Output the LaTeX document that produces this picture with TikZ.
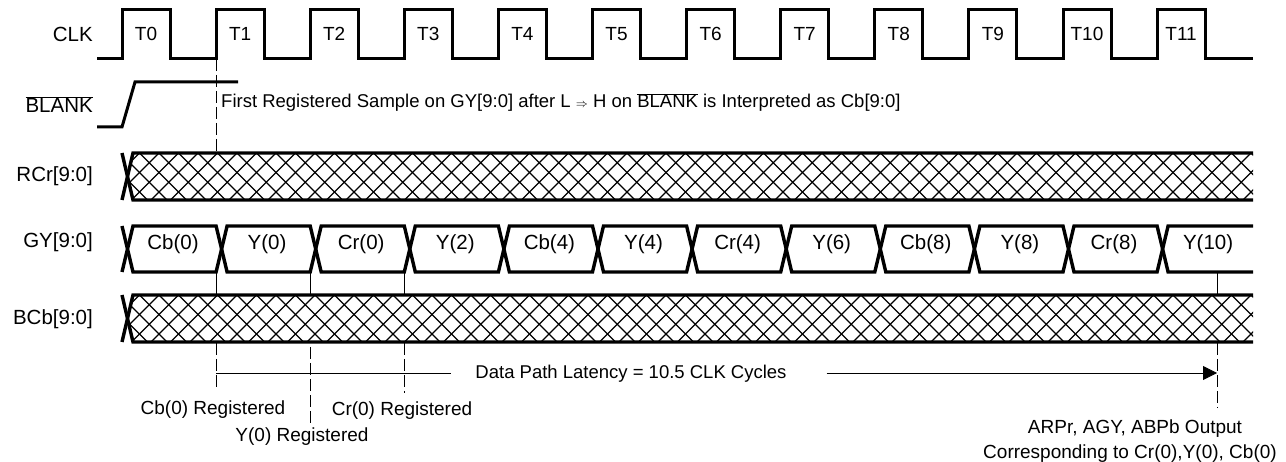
\documentclass[tikz,border=0pt]{standalone}
\usepackage{fontspec}
\setmainfont{Liberation Sans}
\usetikzlibrary{arrows.meta,positioning}

\newcommand{\clkper}{94.1}
% hatched bus between y=#1 (top) and y=#2 (bottom)
\newcommand{\hatchbus}[2]{%
  \begin{scope}
    \clip (127.5,{(#1+#2)/2}) -- (133,#1) -- (1253,#1) -- (1253,#2) -- (133,#2) -- cycle;
    \foreach \s in {-3,...,62} {
      \draw[hatch] ({120+\s*19.5},#1) -- ++(50,50);
      \draw[hatch] ({120+\s*19.5},#1) -- ++(-50,50);
    }
  \end{scope}
  \draw[bus] (122,#1) -- (133,#2) -- (1253,#2);
  \draw[bus] (122,#2) -- (133,#1) -- (1253,#1);
}

\begin{document}
\begin{tikzpicture}[x=1pt,y=-1pt,
    sig/.style={line width=3pt},
    bus/.style={line width=3.4pt},
    hatch/.style={line width=1.2pt},
    lbl/.style={font=\fontsize{19}{22}\selectfont, inner sep=0pt},
    biglbl/.style={lbl, font=\fontsize{20.5}{24}\selectfont},
    smalllbl/.style={lbl, font=\fontsize{18.5}{22}\selectfont},
    guide/.style={line width=0.8pt, dash pattern=on 12pt off 4pt},
    tick/.style={line width=0.8pt}]
    \useasboundingbox (0,0) rectangle (1286,462);

    % signal names
    \node[biglbl, anchor=base east] (clk) at (93,42) {CLK};
    \node[biglbl, anchor=base east] (blank) at (93,113) {$\overline{\mbox{BLANK}}$};
    \node[biglbl, anchor=base east] (rcr) at (93,182) {RCr[9:0]};
    \node[biglbl, anchor=base east] (gy) at (93,248) {GY[9:0]};
    \node[biglbl, anchor=base east] (bcb) at (93,325) {BCb[9:0]};

    % clock
    \draw[sig] (97,59) \foreach \k in {0,...,11} {
        -- ({122+\k*\clkper},59) -- ({122+\k*\clkper},10)
        -- ({170+\k*\clkper},10) -- ({170+\k*\clkper},59) } -- (1253,59);
    \foreach \k in {0,...,11}
        \node[lbl, anchor=base] (t\k) at ({146+\k*\clkper},41) {T\k};

    % blank
    \draw[sig] (97,127) -- (122,127) -- (135,82) -- (238,82);
    \node[smalllbl, anchor=base west] (first) at (221,108) {First Registered Sample on GY[9:0] after L $\scriptstyle\Rightarrow$ H on $\overline{\mbox{BLANK}}$ is Interpreted as Cb[9:0]};
    \draw[guide] (216,59) -- (216,153);

    % RCr and BCb
    \hatchbus{153}{200}
    \hatchbus{295}{342}

    % GY
    \draw[bus] (122,272) \foreach \k [evaluate=\k as \ya using {mod(\k,2)==0 ? 226 : 272},
        evaluate=\k as \xe using {\k==11 ? 1253 : 122+(\k+1)*\clkper}] in {0,...,11} {
        -- ({133+\k*\clkper},\ya) -- (\xe,\ya) };
    \draw[bus] (122,226) \foreach \k [evaluate=\k as \ya using {mod(\k,2)==0 ? 272 : 226},
        evaluate=\k as \xe using {\k==11 ? 1253 : 122+(\k+1)*\clkper}] in {0,...,11} {
        -- ({133+\k*\clkper},\ya) -- (\xe,\ya) };
    \foreach \lab [count=\k from 0] in {Cb(0),Y(0),Cr(0),Y(2),Cb(4),Y(4),Cr(4),Y(6),Cb(8),Y(8),Cr(8),Y(10)}
        \node[biglbl, anchor=base] (seg\k) at ({173+\k*\clkper},250) {\lab};

    % sample marks
    \foreach \x in {216,310,404,1217}
        \draw[tick] (\x,272) -- (\x,295);
    \draw[guide] (216,343) -- (216,387);
    \draw[guide] (310,347) -- (310,425);
    \draw[guide] (404,343) -- (404,393);
    \draw[guide] (1217,343) -- (1217,408);

    % latency
    \coordinate (latA) at (216,373);
    \coordinate (latB) at (1217,373);
    \node[smalllbl, anchor=base] (lat) at (631,379) {Data Path Latency = 10.5 CLK Cycles};
    \coordinate (latL) at ([xshift=-24pt]lat.west);
    \coordinate (latR) at ([xshift=40pt]lat.east);
    \draw[tick] (latA) -- (latL |- latA);
    \draw[tick, -{Triangle[length=14pt,width=14pt]}] (latR |- latB) -- (latB);

    % registered labels
    \node[lbl, anchor=base] (cbreg) at (213,414) {Cb(0) Registered};
    \node[lbl, anchor=base] (yreg) at (302,442) {Y(0) Registered};
    \node[lbl, anchor=base] (crreg) at (402,416) {Cr(0) Registered};
    \node[lbl, anchor=base] (out) at (1135,433) {ARPr, AGY, ABPb Output};
    \node[lbl, anchor=base] (corr) at (1130,458) {Corresponding to Cr(0),Y(0), Cb(0)};
\end{tikzpicture}
\end{document}
